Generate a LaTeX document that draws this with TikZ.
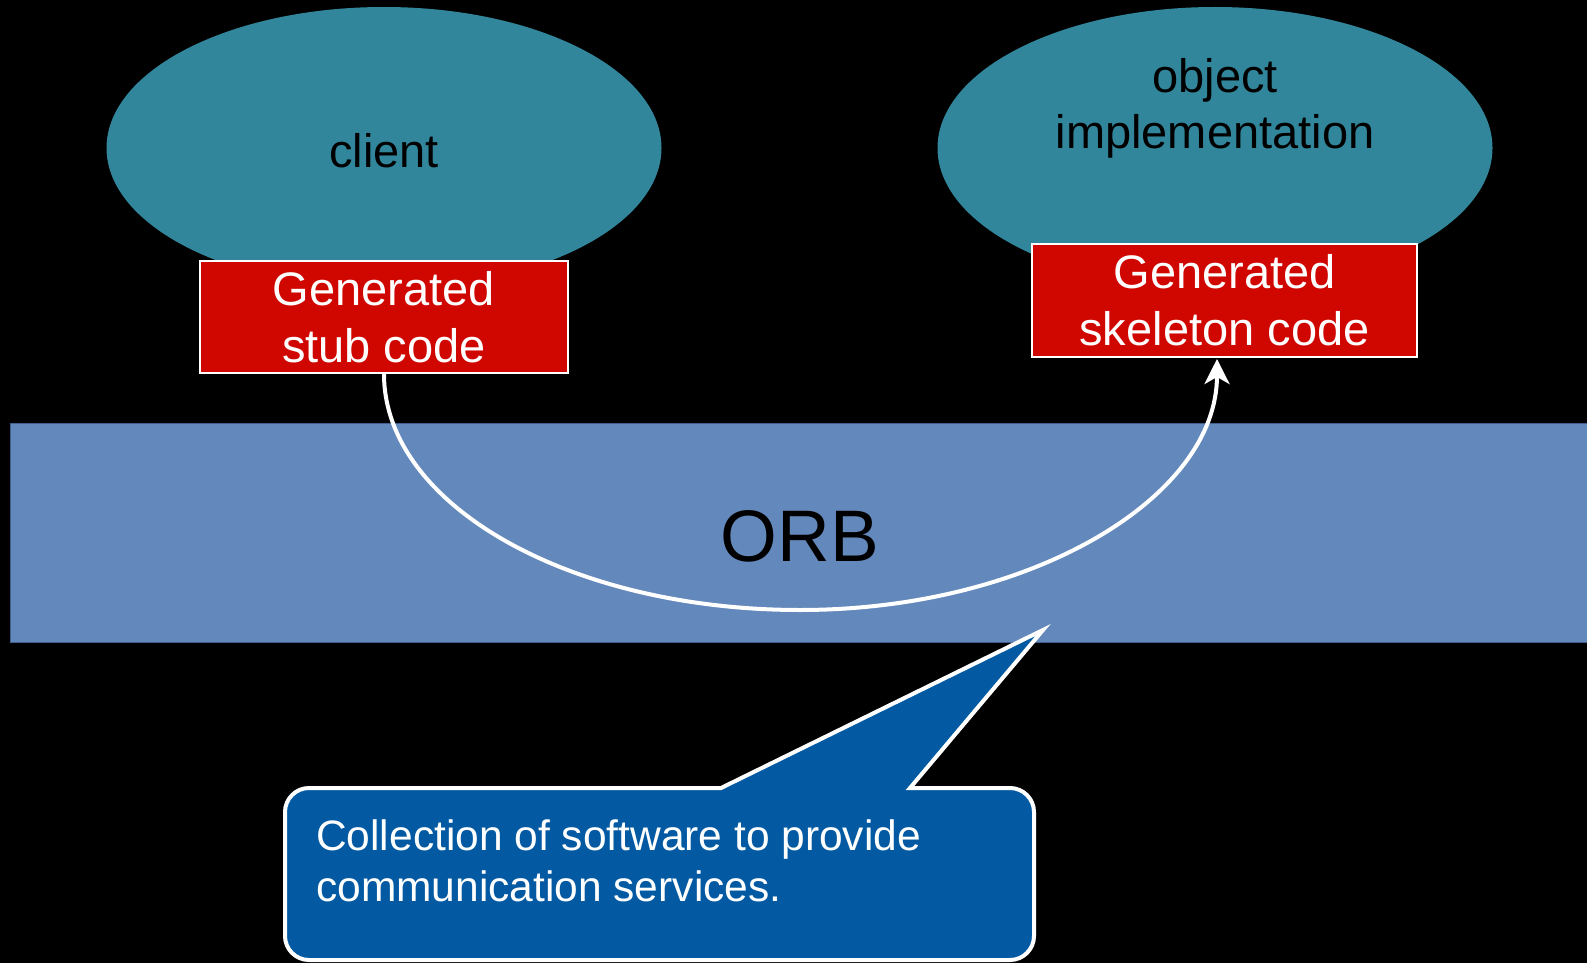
\documentclass[tikz,border=0pt]{standalone}
\usepackage{fontspec}
\setmainfont{Liberation Sans}
\usetikzlibrary{shapes.geometric,arrows.meta,calc}
\definecolor{tealfill}{HTML}{31869B}
\definecolor{genred}{HTML}{D00600}
\definecolor{orbblue}{HTML}{6388BB}
\definecolor{orbedge}{HTML}{3F5F8F}
\definecolor{noteblue}{HTML}{035AA2}
\begin{document}
\begin{tikzpicture}[x=1pt,y=-1pt,
  ovalpart/.style={ellipse, fill=tealfill, draw=none, inner sep=0pt,
    minimum width=555pt, minimum height=282pt},
  ovaltext/.style={text=black, align=center, inner sep=0pt,
    font=\fontsize{47pt}{56pt}\selectfont},
  genbox/.style={rectangle, fill=genred, draw=white, line width=2pt,
    text=white, align=center, inner sep=0pt,
    font=\fontsize{47pt}{57pt}\selectfont},
  flow/.style={draw=white, line width=4pt,
    -{Stealth[length=25pt,width=25pt,inset=7pt]}},
  notetext/.style={text=white, align=left, inner sep=0pt,
    font=\fontsize{42.5pt}{51pt}\selectfont}]
\useasboundingbox (0,0) rectangle (1587,963);
\fill[black] (0,0) rectangle (1587,963);

% ORB band
\fill[orbblue] (10,423) rectangle (1592,642);
\draw[orbedge, line width=1pt] (1592,423) -- (10,423) -- (10,642) -- (1592,642);
\node[text=black, inner sep=0pt, anchor=base,
  font=\fontsize{73pt}{80pt}\selectfont] (orblabel) at (800,561) {ORB};

% client and object implementation
\node[ovalpart] (clientoval) at (384,148) {};
\node[ovaltext, anchor=base] (clienttext) at (384,167) {client};
\node[ovalpart] (objoval) at (1215,148) {};
\node[ovaltext] (objtext) at (1215,108) {object\\implementation};

% generated code boxes
\node[genbox, minimum width=368pt, minimum height=112pt] (stub) at (384,317)
  {Generated\\stub code};
\node[genbox, minimum width=385pt, minimum height=113pt] (skel) at (1224.5,300.5)
  {Generated\\skeleton code};

% request path through the ORB
\coordinate (orbbot) at (800,610);
\coordinate (skelin) at ($(skel.south)+(-7.5,1)$);
\draw[flow] (stub.south) .. controls +(0,131) and (570,610) .. (orbbot)
  .. controls (1030,610) and ($(skelin)+(0,139)$) .. (skelin);

% callout
\coordinate (notetip) at (1043,630);
\draw[fill=noteblue, draw=white, line width=4pt, line join=miter]
  (721,788) -- (notetip) -- (910,788)
  [rounded corners=24pt] -- (1034,788) -- (1034,960) -- (285,960) -- (285,788)
  [sharp corners] -- cycle;
\node[notetext, anchor=north west] (notelabel) at (316,819)
  {Collection of software to provide\\communication services.};
\end{tikzpicture}
\end{document}
